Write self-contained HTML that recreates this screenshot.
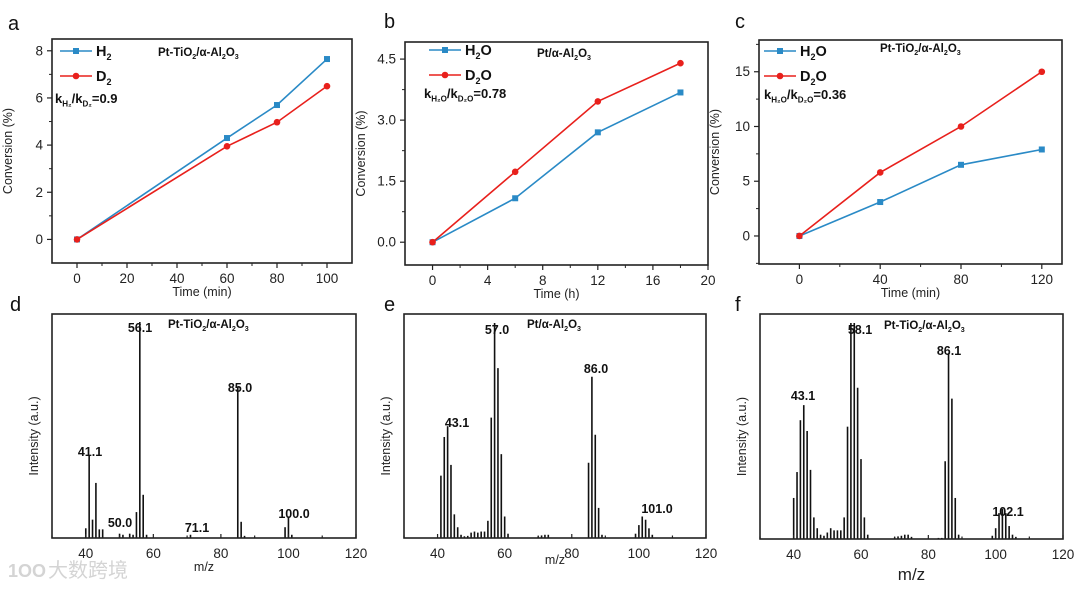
<!DOCTYPE html>
<html><head><meta charset="utf-8"><style>
body{margin:0;background:#fff}
svg{display:block;font-family:"Liberation Sans",Arial,sans-serif}
</style></head><body>
<svg id="s" width="1080" height="589" viewBox="0 0 1080 589" xmlns="http://www.w3.org/2000/svg">
</svg>
<script>
// ---- data: line panels ----
const aTime=[0,60,80,100];
const aH2=[0,4.3,5.7,7.65];
const aD2=[0,3.95,4.97,6.5];
const bTime=[0,6,12,18];
const bH2O=[0,1.08,2.7,3.68];
const bD2O=[0,1.73,3.46,4.4];
const cTime=[0,40,80,120];
const cH2O=[0,3.1,6.5,7.9];
const cD2O=[0,5.8,10,15];
// ---- data: mass spectra ----
const dMz=[40,41,42,43,44,45,50,51,53,54,55,56,57,58,71,85,86,87,99,100,101];
const dInt=[0.045,0.38,0.085,0.255,0.04,0.04,0.02,0.015,0.02,0.015,0.12,1.0,0.2,0.015,0.015,0.70,0.075,0.01,0.05,0.10,0.015];
const eMz=[41,42,43,44,45,46,47,48,49,50,51,52,53,54,55,56,57,58,59,60,61,70,71,72,73,85,86,87,88,89,99,100,101,102,103,104];
const eInt=[0.29,0.47,0.52,0.34,0.11,0.05,0.015,0.008,0.01,0.025,0.03,0.025,0.03,0.03,0.08,0.56,1.0,0.79,0.39,0.10,0.02,0.008,0.012,0.015,0.015,0.35,0.75,0.48,0.14,0.015,0.02,0.06,0.10,0.085,0.045,0.015];
const fMz=[40,41,42,43,44,45,46,47,48,49,50,51,52,53,54,55,56,57,58,59,60,61,62,70,71,72,73,74,75,83,84,85,86,87,88,89,99,100,101,102,103,104,105,106];
const fInt=[0.19,0.31,0.55,0.62,0.50,0.32,0.10,0.05,0.02,0.015,0.03,0.05,0.04,0.04,0.04,0.10,0.52,1.0,1.0,0.70,0.37,0.10,0.02,0.008,0.012,0.015,0.02,0.02,0.01,0.005,0.005,0.36,0.86,0.65,0.19,0.02,0.015,0.05,0.12,0.14,0.12,0.06,0.02,0.01];
const specTicks=[40,60,80,100,120];

const NS="http://www.w3.org/2000/svg";
const svg=document.getElementById('s');
function el(tag,attrs,parent,text){
  const e=document.createElementNS(NS,tag);
  for(const k in attrs) e.setAttribute(k,attrs[k]);
  if(text!==undefined) e.textContent=text;
  (parent||svg).appendChild(e);return e;
}
function scale(d0,d1,r0,r1){return v=>r0+(v-d0)/(d1-d0)*(r1-r0);}
function group(name){const g=el('g',{});return g;}
function frame(g,L,T,R,B){
  const r=el('rect',{x:L,y:T,width:R-L,height:B-T,fill:'none',stroke:'#222','stroke-width':1.6},g);
  
}
function sub(parent,x,y,parts,size,weight){
  const t=el('text',{x:x,y:y,'font-size':size,'font-weight':weight||'normal',fill:'#111'},parent);
  parts.forEach(p=>{
    const ts=el('tspan',{},t,p[0]);
    if(p[1]) {ts.setAttribute('font-size',size*0.62);ts.setAttribute('dy',size*0.28);}
    else if(p[2]) {ts.setAttribute('dy',-size*0.28);}
  });
  return t;
}
function sampleLabel(g,x,y,kind){
  let parts;
  if(kind==='pt') parts=[['Pt/α-Al'],['2',1],['O',0,1],['3',1]];
  else parts=[['Pt-TiO'],['2',1],['/α-Al',0,1],['2',1],['O',0,1],['3',1]];
  const t=sub(g,x,y,parts,11.5,'bold');
  
}

function linePanel(o){
  const g=group(o.name);
  const X=scale(o.xd[0],o.xd[1],o.L,o.R), Y=scale(o.yd[0],o.yd[1],o.B,o.T);
  frame(g,o.L,o.T,o.R,o.B);
  o.xt.forEach((v,i)=>{
    el('line',{x1:X(v),x2:X(v),y1:o.B,y2:o.B+5,stroke:'#222','stroke-width':1.2},g);
    const t=el('text',{x:X(v),y:o.B+20,'font-size':13.5,'text-anchor':'middle',fill:'#222'},g,String(v));
    
    if(i<o.xt.length-1){const m=(v+o.xt[i+1])/2;el('line',{x1:X(m),x2:X(m),y1:o.B,y2:o.B+3,stroke:'#222'},g);}
  });
  o.yt.forEach((v,i)=>{
    el('line',{x1:o.L-5,x2:o.L,y1:Y(v),y2:Y(v),stroke:'#222','stroke-width':1.2},g);
    const t=el('text',{x:o.L-9,y:Y(v)+4.5,'font-size':13.5,'text-anchor':'end',fill:'#222'},g,o.yfmt(v));
    
    const m=v+(o.yt[1]-o.yt[0])/2;if(Y(m)>o.T)el('line',{x1:o.L-3,x2:o.L,y1:Y(m),y2:Y(m),stroke:'#222'},g);
    const m2=v-(o.yt[1]-o.yt[0])/2;if(i==0&&Y(m2)<o.B)el('line',{x1:o.L-3,x2:o.L,y1:Y(m2),y2:Y(m2),stroke:'#222'},g);
  });
  const xt=el('text',{x:(o.L+o.R)/2,y:o.B+33,'font-size':12.5,'text-anchor':'middle',fill:'#222'},g,o.xtitle);
  
  const yx=o.L-40,yy=(o.T+o.B)/2;
  const yt=el('text',{x:yx,y:yy,'font-size':12.5,'text-anchor':'middle',fill:'#222',transform:`rotate(-90 ${yx} ${yy})`},g,'Conversion (%)');
  
  o.series.forEach(s=>{
    const pts=o.x.map((v,i)=>X(v)+','+Y(s.y[i])).join(' ');
    const pl=el('polyline',{points:pts,fill:'none',stroke:s.c,'stroke-width':1.6},g);
    
    o.x.forEach((v,i)=>{
      let m;
      if(s.sq) m=el('rect',{x:X(v)-3,y:Y(s.y[i])-3,width:6,height:6,fill:s.c},g);
      else m=el('circle',{cx:X(v),cy:Y(s.y[i]),r:3.3,fill:s.c},g);
      
    });
  });
  o.series.forEach((s,i)=>{
    const ly=o.leg[1]+i*25;
    const lg=el('g',{},g);
    
    el('line',{x1:o.leg[0],x2:o.leg[0]+32,y1:ly,y2:ly,stroke:s.c,'stroke-width':1.6},lg);
    if(s.sq) el('rect',{x:o.leg[0]+13,y:ly-3,width:6,height:6,fill:s.c},lg);
    else el('circle',{cx:o.leg[0]+16,cy:ly,r:3.3,fill:s.c},lg);
    sub(lg,o.leg[0]+36,ly+5,s.lab,14.5,'bold');
  });
  const k=sub(g,o.k[0],o.k[1],o.kparts,13,'bold');
  
  sampleLabel(g,o.sl[0],o.sl[1],o.kind);
  const pl=el('text',{x:o.pl[0],y:o.pl[1],'font-size':20,fill:'#111'},g,o.letter);
  
}

const BLUE='#2a8ac6',RED='#e8201c';
linePanel({name:'panel-a',L:52,T:39,R:352,B:263,xd:[-10,110],yd:[-1.0,8.5],xt:[0,20,40,60,80,100],yt:[0,2,4,6,8],yfmt:v=>String(v),
  xtitle:'Time (min)',x:aTime,series:[{n:'h2',y:aH2,c:BLUE,sq:1,lab:[['H'],['2',1]]},{n:'d2',y:aD2,c:RED,lab:[['D'],['2',1]]}],
  leg:[60,51],k:[55,103],kparts:[['k'],['H₂',1],['/k',0,1],['D₂',1],['=0.9',0,1]],sl:[158,56],kind:'ti',pl:[8,30],letter:'a'});
linePanel({name:'panel-b',L:405,T:42,R:708,B:265,xd:[-2,20],yd:[-0.56,4.92],xt:[0,4,8,12,16,20],yt:[0,1.5,3,4.5],yfmt:v=>v.toFixed(1),
  xtitle:'Time (h)',x:bTime,series:[{n:'h2o',y:bH2O,c:BLUE,sq:1,lab:[['H'],['2',1],['O',0,1]]},{n:'d2o',y:bD2O,c:RED,lab:[['D'],['2',1],['O',0,1]]}],
  leg:[429,50],k:[424,98],kparts:[['k'],['H₂O',1],['/k',0,1],['D₂O',1],['=0.78',0,1]],sl:[537,57],kind:'pt',pl:[384,28],letter:'b'});
linePanel({name:'panel-c',L:759,T:40,R:1062,B:264,xd:[-20,130],yd:[-2.56,17.9],xt:[0,40,80,120],yt:[0,5,10,15],yfmt:v=>String(v),
  xtitle:'Time (min)',x:cTime,series:[{n:'h2o',y:cH2O,c:BLUE,sq:1,lab:[['H'],['2',1],['O',0,1]]},{n:'d2o',y:cD2O,c:RED,lab:[['D'],['2',1],['O',0,1]]}],
  leg:[764,51],k:[764,99],kparts:[['k'],['H₂O',1],['/k',0,1],['D₂O',1],['=0.36',0,1]],sl:[880,52],kind:'ti',pl:[735,28],letter:'c'});

function specPanel(o){
  const g=group(o.name);
  const X=scale(30,120,o.L,o.R);const H=o.B-o.top;
  o.mz.forEach((m,i)=>{
    const b=el('line',{x1:X(m),x2:X(m),y1:o.B,y2:o.B-o.it[i]*H,stroke:'#111','stroke-width':1.6},g);
    
  });
  frame(g,o.L,o.T,o.R,o.B);
  for(let v=30;v<=120;v+=10){
    el('line',{x1:X(v),x2:X(v),y1:o.B,y2:o.B-(v%20==0?4:2.5),stroke:'#222','stroke-width':1.2},g);
  }
  specTicks.forEach(v=>{
    const t=el('text',{x:X(v),y:o.B+20,'font-size':13.5,'text-anchor':'middle',fill:'#222'},g,String(v));
    
  });
  const xt=el('text',{x:(o.L+o.R)/2,y:o.xty,'font-size':o.xts,'text-anchor':'middle',fill:'#222'},g,'m/z');
  
  const yx=o.L-14,yy=(o.T+o.B)/2+10;
  const yt=el('text',{x:yx,y:yy,'font-size':12.5,'text-anchor':'middle',fill:'#222',transform:`rotate(-90 ${yx} ${yy})`},g,'Intensity (a.u.)');
  
  o.labels.forEach(l=>{
    const t=el('text',{x:l[1],y:l[2],'font-size':12.5,'font-weight':'bold','text-anchor':'middle',fill:'#111'},g,l[0]);
    
  });
  sampleLabel(g,o.sl[0],o.sl[1],o.kind);
  const pl=el('text',{x:o.pl[0],y:o.pl[1],'font-size':20,fill:'#111'},g,o.letter);
  
}
specPanel({name:'panel-d',L:52,T:314,R:356,B:538,top:322,mz:dMz,it:dInt,xty:571,xts:12.5,
  labels:[['56.1',140,332],['85.0',240,392],['41.1',90,456],['50.0',120,527],['71.1',197,532],['100.0',294,518]],sl:[168,328],kind:'ti',pl:[10,311],letter:'d'});
specPanel({name:'panel-e',L:404,T:314,R:706,B:538,top:323,mz:eMz,it:eInt,xty:564,xts:12.5,
  labels:[['57.0',497,334],['86.0',596,373],['43.1',457,427],['101.0',657,513]],sl:[527,328],kind:'pt',pl:[384,311],letter:'e'});
specPanel({name:'panel-f',L:760,T:314,R:1063,B:539,top:323,mz:fMz,it:fInt,xty:580,xts:17,
  labels:[['58.1',860,334],['86.1',949,355],['43.1',803,400],['102.1',1008,516]],sl:[884,329],kind:'ti',pl:[735,311],letter:'f'});

const wm=el('text',{x:48,y:577,'font-size':20,fill:'#d4d4d4','font-family':'"Liberation Sans","Noto Sans CJK SC",sans-serif'},svg,'大数跨境');


const wm2=el('text',{x:8,y:577,'font-size':18,'font-weight':'bold',fill:'#d4d4d4'},svg,'1OO');


</script>
</body></html>
